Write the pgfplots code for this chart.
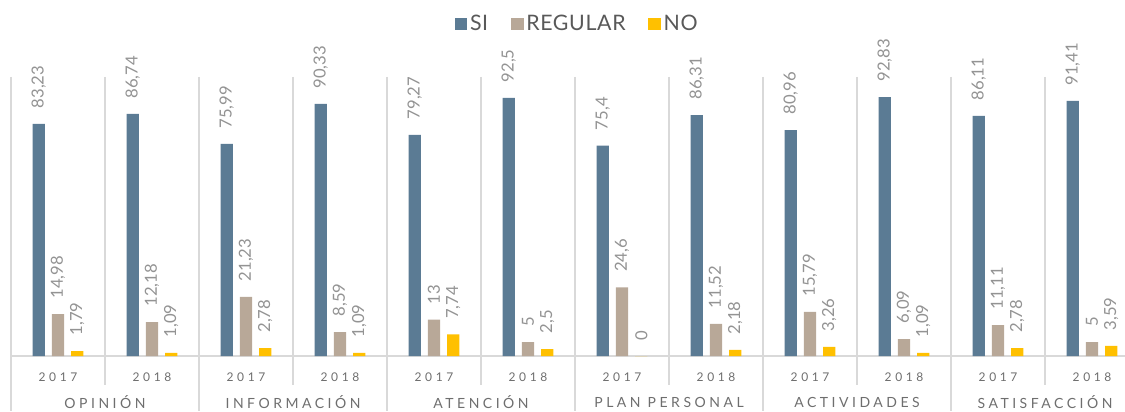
\documentclass[border=0pt]{standalone}
\usepackage{fontspec}
\setmainfont{Lato}
\newfontfamily\spaced[LetterSpace=30]{Lato}
\newfontfamily\catfont[LetterSpace=25]{Lato}
\newfontfamily\legfont[LetterSpace=3]{Lato}
\usepackage{pgfplots}
\usepackage{pgfplotstable}
\pgfplotsset{compat=1.18}
\definecolor{csi}{HTML}{5B7B94}
\definecolor{creg}{HTML}{B8A898}
\definecolor{cno}{HTML}{FFC000}
\definecolor{sepcol}{HTML}{D9D9D9}
\definecolor{lblcol}{HTML}{939393}
\definecolor{axcol}{HTML}{6E6E6E}
\definecolor{legcol}{HTML}{595959}
\pgfplotstableread{
x si reg no
0 83.23 14.98 1.79
1 86.74 12.18 1.09
2 75.99 21.23 2.78
3 90.33 8.59 1.09
4 79.27 13 7.74
5 92.5 5 2.5
6 75.4 24.6 0
7 86.31 11.52 2.18
8 80.96 15.79 3.26
9 92.83 6.09 1.09
10 86.11 11.11 2.78
11 91.41 5 3.59
}\datatab
\pgfplotsset{sqleg/.style={legend image code/.code={\fill[##1,draw=none] (0pt,-4.8pt) rectangle (9.6pt,4.8pt);}}}
\begin{document}
\begin{tikzpicture}
\path[use as bounding box] (0,0) rectangle (843.75pt,308.25pt);
\begin{axis}[
  at={(8.25pt,41.25pt)}, anchor=south west,
  scale only axis, width=835.5pt, height=209.25pt,
  xmin=-0.5, xmax=11.351, ymin=0, ymax=100,
  clip=false,
  ybar, bar width=0.13,
  axis x line*=bottom, axis y line=none,
  x axis line style={draw=sepcol, line width=1.5pt, -},
  ytick=\empty,
  xtick={0,...,11},
  xticklabels={2017,2018,2017,2018,2017,2018,2017,2018,2017,2018,2017,2018},
  major tick length=0pt,
  xticklabel style={anchor=center, yshift=-15.75pt, font=\spaced\fontsize{9}{10}\selectfont, text=axcol},
  extra x ticks={0.5,2.5,4.5,6.5,8.5,10.5},
  extra x tick labels={OPINIÓN,INFORMACIÓN,ATENCIÓN,PLAN PERSONAL,ACTIVIDADES,SATISFACCIÓN},
  extra x tick style={major tick length=0pt, xticklabel style={yshift=-18.75pt, font=\catfont\fontsize{10.5}{12}\selectfont}},
  /pgf/number format/.cd, use comma, 1000 sep={}, assume math mode=true, /pgfplots/.cd,
  nodes near coords,
  every node near coord/.append style={rotate=90, anchor=west, inner xsep=11.5pt, font=\fontsize{12.5}{12.5}\selectfont, text=lblcol},
  legend style={at={(0.5085,1.19)}, anchor=center, draw=none, fill=none, font=\legfont\fontsize{16}{18}\selectfont, text=legcol, /tikz/every even column/.append style={column sep=15pt}},
  legend columns=3,
]
\draw[sepcol, line width=1.5pt] (axis cs:-0.5,100) -- (axis cs:-0.5,-19.7);
\draw[sepcol, line width=1.5pt] (axis cs:1.5,100) -- (axis cs:1.5,-19.7);
\draw[sepcol, line width=1.5pt] (axis cs:3.5,100) -- (axis cs:3.5,-19.7);
\draw[sepcol, line width=1.5pt] (axis cs:5.5,100) -- (axis cs:5.5,-19.7);
\draw[sepcol, line width=1.5pt] (axis cs:7.5,100) -- (axis cs:7.5,-19.7);
\draw[sepcol, line width=1.5pt] (axis cs:9.5,100) -- (axis cs:9.5,-19.7);
\draw[sepcol, line width=1.5pt] (axis cs:0.5,100) -- (axis cs:0.5,-10.4);
\draw[sepcol, line width=1.5pt] (axis cs:2.5,100) -- (axis cs:2.5,-10.4);
\draw[sepcol, line width=1.5pt] (axis cs:4.5,100) -- (axis cs:4.5,-10.4);
\draw[sepcol, line width=1.5pt] (axis cs:6.5,100) -- (axis cs:6.5,-10.4);
\draw[sepcol, line width=1.5pt] (axis cs:8.5,100) -- (axis cs:8.5,-10.4);
\draw[sepcol, line width=1.5pt] (axis cs:10.5,100) -- (axis cs:10.5,-10.4);
\addplot[fill=csi, draw=none, bar shift=-0.205, sqleg] table[x=x,y=si] {\datatab};
\addplot[fill=creg, draw=none, bar shift=0, sqleg] table[x=x,y=reg] {\datatab};
\addplot[fill=cno, draw=none, bar shift=0.205, sqleg] table[x=x,y=no] {\datatab};
\legend{SI,REGULAR,NO}
\end{axis}
\end{tikzpicture}
\end{document}
